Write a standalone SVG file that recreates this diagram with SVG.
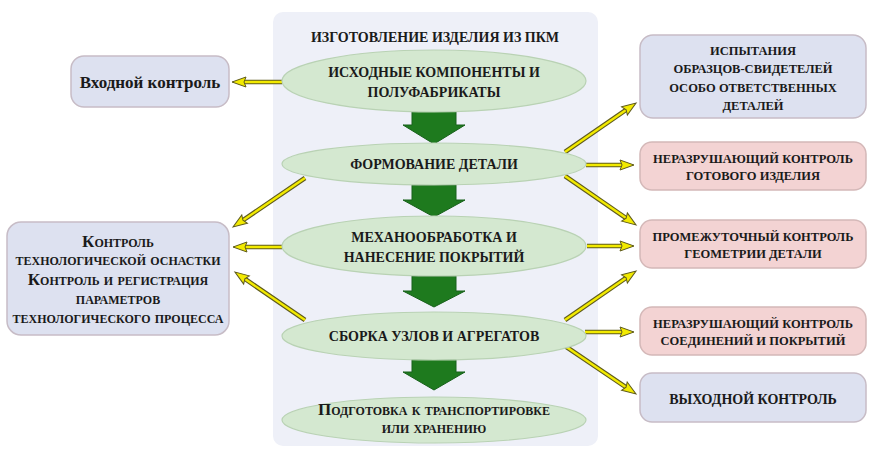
<svg xmlns="http://www.w3.org/2000/svg" width="870" height="450" viewBox="0 0 870 450">
<defs>
<style>
.t{font-family:"Liberation Serif","DejaVu Serif",serif;font-weight:bold;fill:#1a1a1a;text-anchor:middle}
.sc{font-variant:small-caps}
.ell{fill:#d4e8d0;stroke:#b9d2b4;stroke-width:1.2}
.bb{fill:#dde1f0;stroke:#c7bcc6;stroke-width:1.5}
.pb{fill:#f3d3d3;stroke:#d4b8b8;stroke-width:1.5}
.ga{fill:#1e7a1e;stroke:#17601a;stroke-width:1}
.co{fill:none;stroke:#5e5a1c;stroke-width:4.6}
.cy{fill:none;stroke:#f2ea00;stroke-width:2.4;marker-end:url(#ah)}
</style>
<marker id="ah" markerUnits="userSpaceOnUse" markerWidth="18" markerHeight="14" refX="4" refY="7" orient="auto" viewBox="-1 0 18 14">
<path d="M0,2 L14,7 L0,12 L2,7 Z" fill="#f2ea00" stroke="#5e5a1c" stroke-width="1"/>
</marker>
</defs>
<rect x="0" y="0" width="870" height="450" fill="#ffffff"/>
<rect id="panel" x="273" y="12" width="325" height="434" rx="10" fill="#eef0f8"/>
<text class="t" x="435" y="42" font-size="14">ИЗГОТОВЛЕНИЕ ИЗДЕЛИЯ ИЗ ПКМ</text>

<g id="connectors">
<g><path class="co" d="M282,82 L242,82"/><path class="cy" d="M282,82 L242,82"/></g>
<g><path class="co" d="M305,178 L241.3,221.4"/><path class="cy" d="M305,178 L241.3,221.4"/></g>
<g><path class="co" d="M282,247 L243,247"/><path class="cy" d="M282,247 L243,247"/></g>
<g><path class="co" d="M305,320 L243.2,277.7"/><path class="cy" d="M305,320 L243.2,277.7"/></g>
<g><path class="co" d="M565,152 L627.8,108.7"/><path class="cy" d="M565,152 L627.8,108.7"/></g>
<g><path class="co" d="M586,165 L624,165"/><path class="cy" d="M586,165 L624,165"/></g>
<g><path class="co" d="M565,176 L627.8,219.3"/><path class="cy" d="M565,176 L627.8,219.3"/></g>
<g><path class="co" d="M587,246 L624,246"/><path class="cy" d="M587,246 L624,246"/></g>
<g><path class="co" d="M565,320 L627.8,276.7"/><path class="cy" d="M565,320 L627.8,276.7"/></g>
<g><path class="co" d="M585,332 L624,332"/><path class="cy" d="M585,332 L624,332"/></g>
<g><path class="co" d="M565,346 L627.7,388.4"/><path class="cy" d="M565,346 L627.7,388.4"/></g>
<polygon class="ga" points="412,111 456,111 456,125 465,125 434,144 403,125 412,125"/>
<polygon class="ga" points="412,185 456,185 456,200 465,200 434,217 403,200 412,200"/>
<polygon class="ga" points="412,276 456,276 456,291 465,291 434,307 403,291 412,291"/>
<polygon class="ga" points="412,359 456,359 456,372 465,372 434,390 403,372 412,372"/>
</g>

<g id="e1"><ellipse class="ell" cx="434" cy="81" rx="152" ry="31"/>
<text class="t" x="434" y="77" font-size="14">ИСХОДНЫЕ КОМПОНЕНТЫ И</text>
<text class="t" x="434" y="97" font-size="14">ПОЛУФАБРИКАТЫ</text></g>
<g id="e2"><ellipse class="ell" cx="434" cy="164" rx="152" ry="21"/>
<text class="t" x="434" y="169" font-size="14">ФОРМОВАНИЕ ДЕТАЛИ</text></g>
<g id="e3"><ellipse class="ell" cx="434" cy="246" rx="152" ry="30"/>
<text class="t" x="434" y="242" font-size="14">МЕХАНООБРАБОТКА И</text>
<text class="t" x="434" y="262" font-size="14">НАНЕСЕНИЕ ПОКРЫТИЙ</text></g>
<g id="e4"><ellipse class="ell" cx="434" cy="336" rx="152" ry="24"/>
<text class="t" x="434" y="341" font-size="14">СБОРКА УЗЛОВ И АГРЕГАТОВ</text></g>
<g id="e5"><ellipse class="ell" cx="434" cy="420" rx="152" ry="23"/>
<text class="t sc" x="434" y="415" font-size="17">Подготовка к транспортировке</text>
<text class="t sc" x="434" y="433" font-size="17">или хранению</text></g>

<g id="l1"><rect class="bb" x="71" y="56" width="158" height="51" rx="13"/>
<text class="t" x="150" y="88" font-size="17">Входной контроль</text></g>
<g id="l2"><rect class="bb" x="7" y="222" width="222" height="113" rx="14"/>
<text class="t sc" x="118" y="247" font-size="17">Контроль</text>
<text class="t sc" x="118" y="265" font-size="17">технологической оснастки</text>
<text class="t sc" x="118" y="285" font-size="17">Контроль и регистрация</text>
<text class="t sc" x="118" y="304" font-size="17">параметров</text>
<text class="t sc" x="118" y="323" font-size="17">технологического процесса</text></g>

<g id="r1"><rect class="bb" x="640" y="35" width="226" height="83" rx="13"/>
<text class="t" x="753" y="55" font-size="12.5">ИСПЫТАНИЯ</text>
<text class="t" x="753" y="73" font-size="12.5">ОБРАЗЦОВ-СВИДЕТЕЛЕЙ</text>
<text class="t" x="753" y="92" font-size="12.5">ОСОБО ОТВЕТСТВЕННЫХ</text>
<text class="t" x="753" y="110" font-size="12.5">ДЕТАЛЕЙ</text></g>
<g id="r2"><rect class="pb" x="640" y="142" width="226" height="48" rx="12"/>
<text class="t" x="753" y="163" font-size="12.5">НЕРАЗРУШАЮЩИЙ КОНТРОЛЬ</text>
<text class="t" x="753" y="180" font-size="12.5">ГОТОВОГО ИЗДЕЛИЯ</text></g>
<g id="r3"><rect class="pb" x="640" y="220" width="226" height="48" rx="12"/>
<text class="t" x="753" y="241" font-size="12.5">ПРОМЕЖУТОЧНЫЙ КОНТРОЛЬ</text>
<text class="t" x="753" y="258" font-size="12.5">ГЕОМЕТРИИ ДЕТАЛИ</text></g>
<g id="r4"><rect class="pb" x="640" y="307" width="226" height="48" rx="12"/>
<text class="t" x="753" y="328" font-size="12.5">НЕРАЗРУШАЮЩИЙ КОНТРОЛЬ</text>
<text class="t" x="753" y="345" font-size="12.5">СОЕДИНЕНИЙ И ПОКРЫТИЙ</text></g>
<g id="r5"><rect class="bb" x="640" y="373" width="226" height="49" rx="12"/>
<text class="t" x="753" y="404" font-size="14">ВЫХОДНОЙ КОНТРОЛЬ</text></g>
</svg>
